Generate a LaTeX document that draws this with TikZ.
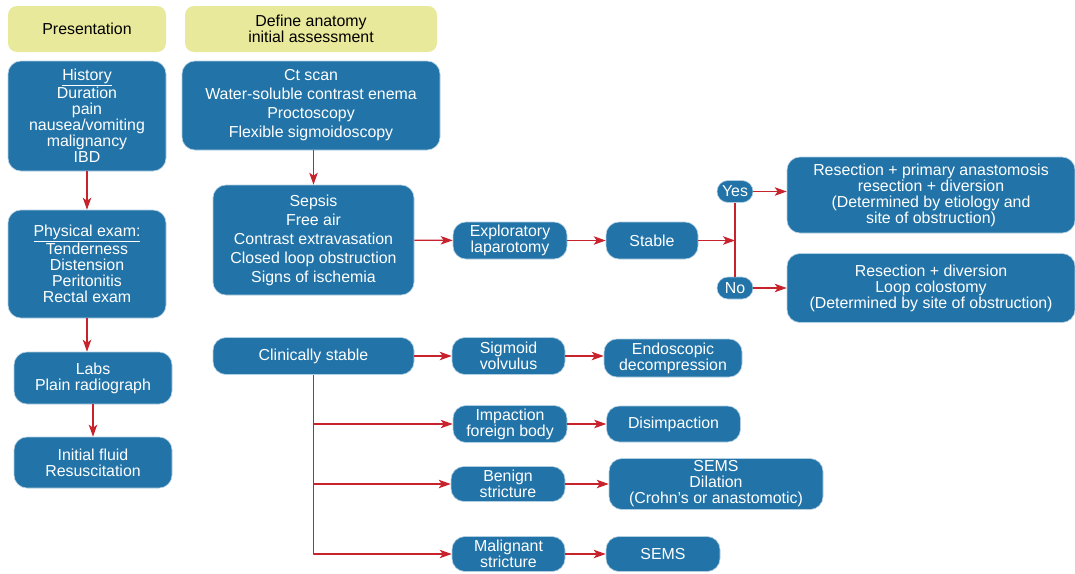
\documentclass[tikz,border=0pt]{standalone}
\usepackage{fontspec}
\setmainfont{Liberation Sans}
\usetikzlibrary{arrows.meta}
\definecolor{boxblue}{HTML}{2274A8}
\definecolor{headyellow}{HTML}{E9E99B}
\definecolor{arrowred}{HTML}{C8232C}

\begin{document}
\begin{tikzpicture}[x=1pt,y=-1pt,line join=round,
  >={Stealth[length=12pt,width=8.5pt,inset=3pt]},
  font=\fontsize{15.9}{16}\selectfont,
  headbox/.style={fill=headyellow,rounded corners=9pt,inner sep=0pt,align=center,text=black},
  bluebox/.style={fill=boxblue,draw=white!65!boxblue,line width=0.6pt,rounded corners=13pt,inner sep=0pt,align=center,text=white},
  pillbox/.style={bluebox,rounded corners=11pt},
  loose/.style={font=\fontsize{15.9}{19}\selectfont},
  flow/.style={draw=arrowred,line width=1.2pt,->}]
  \useasboundingbox (0,0) rectangle (1075,573);

  % headers
  \node[headbox,minimum width=158pt,minimum height=46pt] (pres) at (87,29) {Presentation};
  \node[headbox,minimum width=252pt,minimum height=46pt] (anat) at (311,29) {Define anatomy\\initial assessment};

  % presentation column
  \node[bluebox,minimum width=158pt,minimum height=110pt] (hist) at (87,116) {\underline{History}\\Duration\\pain\\nausea/vomiting\\malignancy\\IBD};
  \node[bluebox,minimum width=158pt,minimum height=108pt] (phys) at (87,264) {\underline{Physical exam:}\\Tenderness\\Distension\\Peritonitis\\Rectal exam};
  \node[bluebox,minimum width=158pt,minimum height=52pt] (labs) at (93,378) {Labs\\Plain radiograph};
  \node[bluebox,minimum width=158pt,minimum height=51pt] (fluid) at (93,462.5) {Initial fluid\\Resuscitation};

  % anatomy / assessment
  \node[bluebox,loose,minimum width=258pt,minimum height=89pt] (ct) at (311,105.5) {Ct scan\\Water-soluble contrast enema\\Proctoscopy\\Flexible sigmoidoscopy};
  \node[bluebox,loose,minimum width=201pt,minimum height=110pt] (sepsis) at (313.5,240) {Sepsis\\Free air\\Contrast extravasation\\Closed loop obstruction\\Signs of ischemia};
  \node[bluebox,minimum width=114pt,minimum height=37pt] (explap) at (510,240.5) {Exploratory\\laparotomy};
  \node[bluebox,minimum width=92pt,minimum height=37pt] (stable) at (652,240.5) {Stable};
  \node[pillbox,minimum width=36pt,minimum height=22pt] (yes) at (735,191.5) {Yes};
  \node[pillbox,minimum width=36pt,minimum height=22pt] (no) at (735,288) {No};
  \node[bluebox,minimum width=288pt,minimum height=76pt] (primary) at (931,195) {Resection + primary anastomosis\\resection + diversion\\(Determined by etiology and\\site of obstruction)};
  \node[bluebox,minimum width=288pt,minimum height=69pt] (loop) at (931,288) {Resection + diversion\\Loop colostomy\\(Determined by site of obstruction)};
  \coordinate (fork) at (735,240.5);

  % clinically stable branch
  \node[bluebox,minimum width=201pt,minimum height=37pt] (clin) at (313.5,356) {Clinically stable};
  \node[bluebox,minimum width=113pt,minimum height=37pt] (sigmoid) at (508.5,356) {Sigmoid\\volvulus};
  \node[bluebox,minimum width=138pt,minimum height=38pt] (endo) at (673,358) {Endoscopic\\decompression};
  \node[bluebox,minimum width=114pt,minimum height=37pt] (impact) at (510,424) {Impaction\\foreign body};
  \node[bluebox,minimum width=134pt,minimum height=36pt] (disimp) at (673.5,424) {Disimpaction};
  \node[bluebox,minimum width=114pt,minimum height=35pt] (benign) at (508,484) {Benign\\stricture};
  \node[bluebox,minimum width=214pt,minimum height=51pt] (dilat) at (716,484) {SEMS\\Dilation\\(Crohn’s or anastomotic)};
  \node[bluebox,minimum width=113pt,minimum height=35pt] (malig) at (508.5,554) {Malignant\\stricture};
  \node[bluebox,minimum width=114pt,minimum height=35pt] (sems) at (663,554) {SEMS};

  % connectors
  \draw[flow] (hist) -- (phys);
  \draw[flow] (phys.south) -- (phys.south |- labs.north);
  \draw[flow] (labs) -- (fluid);
  \draw[flow] (sepsis.north |- ct.south) -- (sepsis.north);
  \draw[flow] (sepsis) -- (explap);
  \draw[flow] (explap) -- (stable);
  \draw[flow] (stable) -- (fork);
  \draw[flow,-] (yes.south) -- (no.north);
  \draw[flow] (yes.east) -- (yes.east -| primary.west);
  \draw[flow] (no.east) -- (no.east -| loop.west);
  \draw[flow] (clin) -- (sigmoid);
  \draw[flow] (sigmoid.east) -- (sigmoid.east -| endo.west);
  \draw[flow] (clin.south) |- (malig.west);
  \draw[flow] (clin.south |- impact.west) -- (impact.west);
  \draw[flow] (clin.south |- benign.west) -- (benign.west);
  \draw[flow] (impact) -- (disimp);
  \draw[flow] (benign) -- (dilat);
  \draw[flow] (malig) -- (sems);
\end{tikzpicture}
\end{document}
